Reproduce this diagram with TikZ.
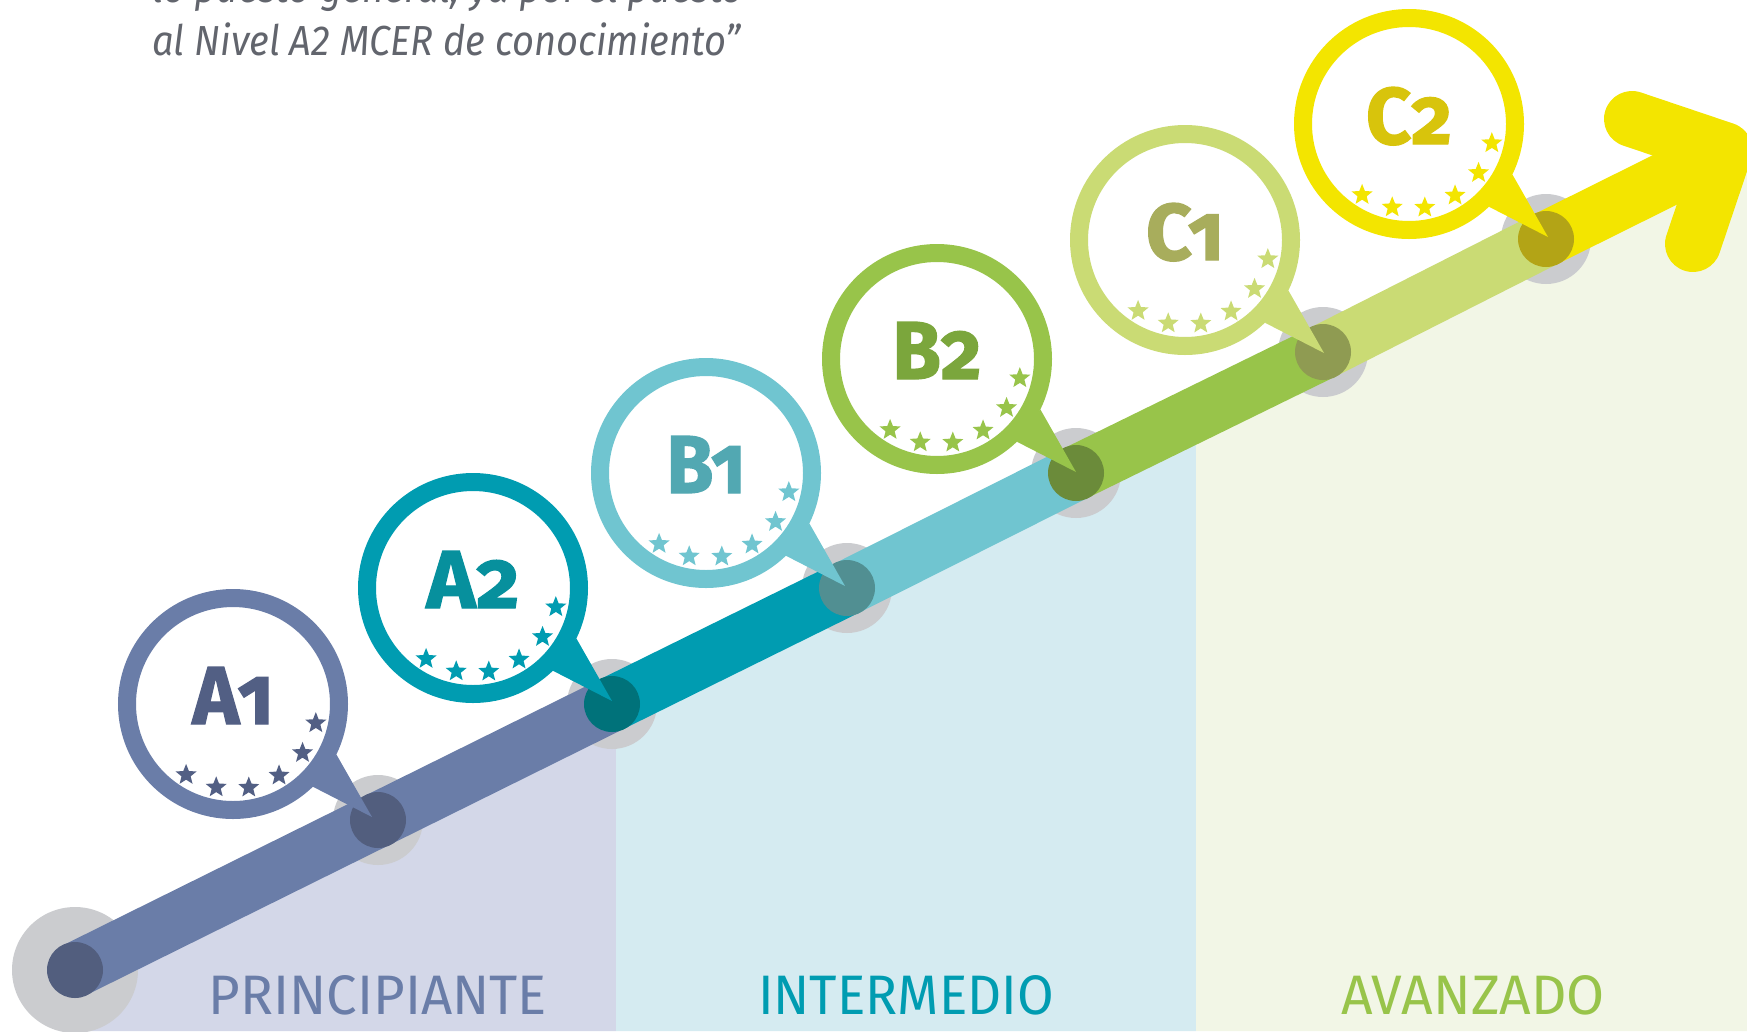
\documentclass[tikz,border=0pt]{standalone}
\usepackage{fontspec}
\usepackage{graphicx}
\setmainfont{Fira Sans}
\newfontfamily\lvfont{Fira Sans}[Numbers=OldStyle,BoldFeatures={FakeBold=1.6}]
\usetikzlibrary{shapes.geometric,calc}
\definecolor{bgA}{HTML}{D3D7E8}
\definecolor{bgB}{HTML}{D5EBF1}
\definecolor{bgC}{HTML}{F2F6E6}
\definecolor{haloC}{HTML}{CBCCCF}
\definecolor{ringA}{HTML}{6A7DA8}
\definecolor{txtA}{HTML}{525F84}
\definecolor{nodA}{HTML}{525E7E}
\definecolor{ringB}{HTML}{009CB1}
\definecolor{txtB}{HTML}{07909D}
\definecolor{nodB}{HTML}{00727A}
\definecolor{ringC}{HTML}{70C5D0}
\definecolor{txtC}{HTML}{52A8B2}
\definecolor{nodC}{HTML}{518F92}
\definecolor{ringD}{HTML}{98C44A}
\definecolor{txtD}{HTML}{7BA63C}
\definecolor{nodD}{HTML}{6B8B3A}
\definecolor{ringE}{HTML}{CADB74}
\definecolor{txtE}{HTML}{A8AD5C}
\definecolor{nodE}{HTML}{8F9B52}
\definecolor{ringF}{HTML}{F3E500}
\definecolor{txtF}{HTML}{D8C40C}
\definecolor{nodF}{HTML}{B3A416}
\definecolor{capgray}{HTML}{62656D}
% #1 id, #2 centre, #3 ring, #4 text colour, #5 star colour, #6 label, #7 label width
\newcommand\lvbubble[7]{%
  \node[bubble,draw=#3] (b#1) at #2 {};
  \fill[#3] ($(b#1)+(26:115)$) -- ($(b#1)+(139,113)$) -- ($(b#1)+(46:115)$) -- cycle;
  \node[lvtext,text=#4] (t#1) at ($(b#1)+(0,20)$) {\resizebox{#7pt}{57pt}{#6}};
  \foreach \k in {0,...,5}{\node[lvstar,fill=#5] (s#1\k) at ($(b#1)+({123.5-22.1*\k}:85)$) {};}
}
\begin{document}
\begin{tikzpicture}[x=1pt,y=-1pt,
  halo/.style={circle,fill=haloC,minimum size=90pt,inner sep=0pt},
  bighalo/.style={circle,fill=haloC,minimum size=126pt,inner sep=0pt},
  dot/.style={circle,minimum size=56pt,inner sep=0pt},
  band/.style={line width=55pt},
  bubble/.style={circle,fill=white,line width=18pt,minimum size=212pt,inner sep=0pt},
  lvstar/.style={star,star points=5,star point ratio=2.3,minimum size=22pt,inner sep=0pt},
  lvtext/.style={anchor=base,inner sep=0pt,font=\lvfont\bfseries\fontsize{83}{83}\selectfont},
  lab/.style={anchor=base,inner sep=0pt,font=\fontsize{56}{60}\selectfont},
  captxt/.style={anchor=base west,inner sep=0pt,text=capgray,font=\itshape\fontsize{42}{50}\selectfont}]
\useasboundingbox (0,0) rectangle (1747,1031);
\clip (0,0) rectangle (1747,1031);
% key points of the path
\coordinate (p0) at (75,970);
\coordinate (pA1) at (378,820);
\coordinate (pA2) at (612,704);
\coordinate (pB1) at (847,588);
\coordinate (pB2) at (1076,473);
\coordinate (pC1) at (1323,352);
\coordinate (pC2) at (1546,239);
\coordinate (apex) at (1724.6,150.2);
\coordinate (armU) at (1632,119);
\coordinate (armL) at (1693,244);
\coordinate (qAB) at (616,702);
\coordinate (qBC) at (1196,414);
% backgrounds
\fill[bgA] (p0) -- (pA1) -- (pA2) -- (qAB) -- (616,1031) -- (75,1031) -- cycle;
\fill[bgB] (qAB) -- (pB1) -- (pB2) -- (qBC) -- (1196,1031) -- (616,1031) -- cycle;
\fill[bgC] (qBC) -- (pC1) -- (pC2) -- (apex) -- (1760,132) -- (1760,1031) -- (1196,1031) -- cycle;
% halos
\node[bighalo] (h0) at (p0) {};
\node[halo] (hA1) at (pA1) {};
\node[halo] (hA2) at (pA2) {};
\node[halo] (hB1) at (pB1) {};
\node[halo] (hB2) at (pB2) {};
\node[halo] (hC1) at (pC1) {};
\node[halo] (hC2) at (pC2) {};
% band
\draw[band,ringA] (p0) -- (pA2);
\draw[band,ringB] (pA2) -- (pB1);
\draw[band,ringC] (pB1) -- (pB2);
\draw[band,ringD] (pB2) -- (pC1);
\draw[band,ringE] (pC1) -- (pC2);
\draw[band,ringF] (pC2) -- (apex);
\draw[ringF,line width=56pt,line cap=round,line join=round] (armU) -- (apex) -- (armL);
% dots
\node[dot,fill=nodA] (d0) at (p0) {};
\node[dot,fill=nodA] (dA1) at (pA1) {};
\node[dot,fill=nodB] (dA2) at (pA2) {};
\node[dot,fill=nodC] (dB1) at (pB1) {};
\node[dot,fill=nodD] (dB2) at (pB2) {};
\node[dot,fill=nodE] (dC1) at (pC1) {};
\node[dot,fill=nodF] (dC2) at (pC2) {};
% bubbles
\lvbubble{A1}{(233,704)}{ringA}{txtA}{txtA}{A1}{81}
\lvbubble{A2}{(473,588)}{ringB}{txtB}{ringB}{A2}{93}
\lvbubble{B1}{(706,473)}{ringC}{txtC}{ringC}{B1}{79}
\lvbubble{B2}{(937,359)}{ringD}{txtD}{ringD}{B2}{89}
\lvbubble{C1}{(1185,240)}{ringE}{txtE}{ringE}{C1}{78}
\lvbubble{C2}{(1409,124)}{ringF}{txtF}{ringF}{C2}{86}
% labels
\node[lab,text=ringA] (lP) at (378,1014) {\resizebox{338pt}{39pt}{PRINCIPIANTE}};
\node[lab,text=ringB] (lI) at (906,1014) {\resizebox{296pt}{39pt}{INTERMEDIO}};
\node[lab,text=ringD] (lV) at (1473,1014) {\resizebox{264pt}{39pt}{AVANZADO}};
% caption
\node[captxt] (cap1) at (152,2) {\scalebox{0.906}[1]{lo puesto general, ya por el puesto}};
\node[captxt] (cap2) at (152,55) {\scalebox{0.906}[1]{al Nivel A2 MCER de conocimiento”}};
\end{tikzpicture}
\end{document}
